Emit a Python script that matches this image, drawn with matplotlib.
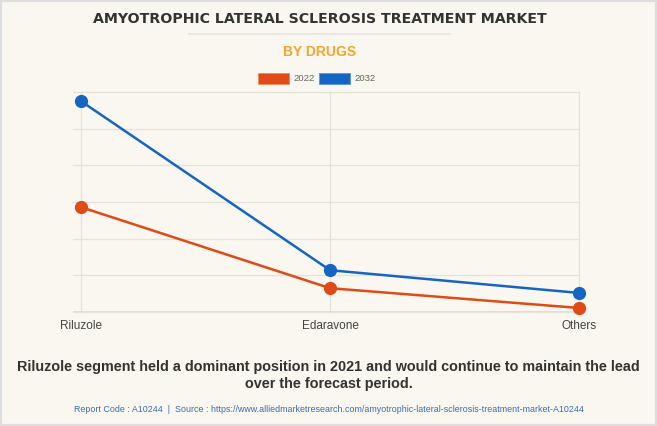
import matplotlib
matplotlib.use("Agg")
import matplotlib.pyplot as plt
from matplotlib.patches import Rectangle
from matplotlib.lines import Line2D

categories = ["Riluzole", "Edaravone", "Others"]
values_2022 = [2.86, 0.65, 0.11]
values_2032 = [5.75, 1.14, 0.52]
series_labels = ["2022", "2032"]

BG = "#f9f7f0"
ORANGE = "#e04a17"
BLUE = "#1565c4"
GRID = "#e5e2da"

plt.rcParams['font.family'] = ['Liberation Sans', 'DejaVu Sans']

fig = plt.figure(figsize=(6.57, 4.26), dpi=100, facecolor=BG)
W, H = 657, 426

def fx(px):
    return px / W

def fy(py):
    return 1 - py / H

ax = fig.add_axes([fx(73), fy(312), fx(579) - fx(73), (312 - 92) / H])
ax.set_facecolor(BG)
x = list(range(len(categories)))
ax.set_xlim(-8 / 249, 2)
ax.set_ylim(0, 6)
ax.set_yticks(range(0, 7))
ax.set_yticklabels([])
ax.tick_params(axis='y', length=0)
ax.set_xticks(x)
ax.set_xticklabels(categories, fontsize=8.5, color="#444444")
ax.tick_params(axis='x', length=0, pad=6)
ax.grid(True, color=GRID, linewidth=0.9, clip_on=False)
ax.set_axisbelow(True)
for s in ax.spines.values():
    s.set_visible(False)
ax.axhline(0, color="#dddad2", linewidth=1.2, zorder=1)

ax.plot(x, values_2022, color=ORANGE, linewidth=1.8, marker='o', markersize=8.5,
        clip_on=False, zorder=3)
ax.plot(x, values_2032, color=BLUE, linewidth=1.8, marker='o', markersize=8.5,
        clip_on=False, zorder=4)

# Titles
fig.text(fx(320), fy(19), "AMYOTROPHIC LATERAL SCLEROSIS TREATMENT MARKET",
         ha='center', va='center', fontsize=10.15, fontweight='bold', color="#333333",
         family=['DejaVu Sans'])
fig.add_artist(Line2D([fx(189), fx(450)], [fy(34), fy(34)], color="#e6e4de", linewidth=1.2))
fig.text(fx(320), fy(52), "BY DRUGS", ha='center', va='center', fontsize=10,
         fontweight='bold', color="#f4a62a")

# Legend
fig.add_artist(Rectangle((fx(258), fy(84)), (289 - 258) / W, 11 / H,
                         facecolor=ORANGE, edgecolor="#f08a60", linewidth=0.6))
fig.text(fx(293), fy(78.5), series_labels[0], ha='left', va='center', fontsize=6.8, color="#666666")
fig.add_artist(Rectangle((fx(319), fy(84)), (350 - 319) / W, 11 / H,
                         facecolor=BLUE, edgecolor="#5a95dc", linewidth=0.6))
fig.text(fx(354), fy(78.5), series_labels[1], ha='left', va='center', fontsize=6.8, color="#666666")

# Caption
fig.text(fx(328.5), fy(367), "Riluzole segment held a dominant position in 2021 and would continue to maintain the lead",
         ha='center', va='center', fontsize=10.4, fontweight='bold', color="#333333")
fig.text(fx(328.5), fy(384), "over the forecast period.",
         ha='center', va='center', fontsize=10.4, fontweight='bold', color="#333333")
fig.text(fx(328.5), fy(409),
         "Report Code : A10244  |  Source : https://www.alliedmarketresearch.com/amyotrophic-lateral-sclerosis-treatment-market-A10244",
         ha='center', va='center', fontsize=6.4, color="#3a6db5")

# Border
fig.add_artist(Rectangle((0, 0), 1, 1, transform=fig.transFigure, fill=False,
                         edgecolor="#dedede", linewidth=3))

fig.savefig("out.png", dpi=100, facecolor=BG)
